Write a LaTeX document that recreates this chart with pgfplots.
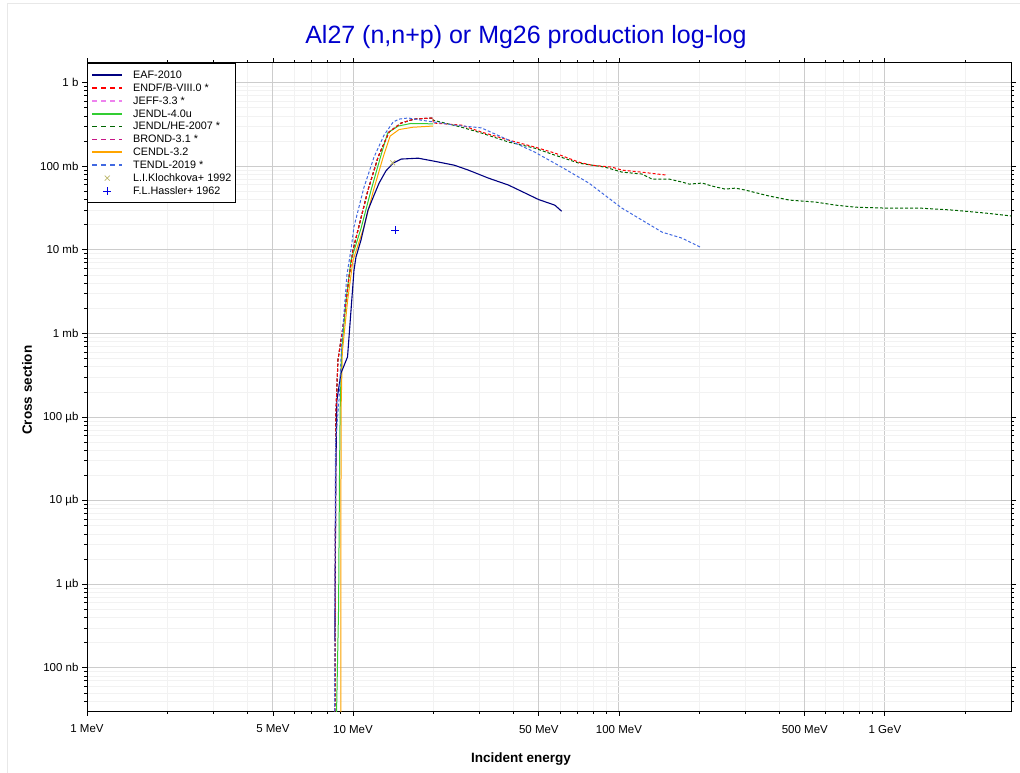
\documentclass[border=0pt]{standalone}
\usepackage{fontspec}
\setmainfont{Liberation Sans}
\usepackage{pgfplots}
\pgfplotsset{compat=1.18}
\definecolor{eafc}{RGB}{0,0,128}
\definecolor{endfc}{RGB}{255,0,0}
\definecolor{jeffc}{RGB}{238,130,238}
\definecolor{jendlc}{RGB}{50,205,50}
\definecolor{jhec}{RGB}{0,100,0}
\definecolor{brondc}{RGB}{199,21,133}
\definecolor{cendlc}{RGB}{255,165,0}
\definecolor{tendlc}{RGB}{65,105,225}
\definecolor{klochc}{RGB}{189,183,107}
\definecolor{hassc}{RGB}{0,0,230}
\definecolor{titlec}{RGB}{0,0,205}
\begin{document}
\begin{tikzpicture}
\path[use as bounding box] (0,0) rectangle (1020pt,773pt);
\draw[black!9, line width=1pt] (7pt,0pt) -- (7pt,769pt) -- (1020pt,769pt);
\begin{axis}[
  at={(87pt,62pt)}, anchor=south west,
  scale only axis, width=924pt, height=648pt,
  xmode=log, ymode=log,
  xmin=1, xmax=2980, ymin=3.05e-5, ymax=1720,
  axis line style={black, line width=1pt},
  xtick={1,10,100,1000},
  xticklabels={1 MeV,10 MeV,100 MeV,1 GeV},
  extra x ticks={5,50,500},
  extra x tick labels={5 MeV,50 MeV,500 MeV},
  minor xtick={2,3,4,6,7,8,9,20,30,40,60,70,80,90,200,300,400,600,700,800,900,2000,3000},
  ytick={1e-4,1e-3,1e-2,1e-1,1,10,100,1000},
  yticklabels={100 nb,1 µb,10 µb,100 µb,1 mb,10 mb,100 mb,1 b},
  minor ytick={4e-5,5e-5,6e-5,7e-5,8e-5,9e-5,2e-4,3e-4,4e-4,5e-4,6e-4,7e-4,8e-4,9e-4,2e-3,3e-3,4e-3,5e-3,6e-3,7e-3,8e-3,9e-3,2e-2,3e-2,4e-2,5e-2,6e-2,7e-2,8e-2,9e-2,0.2,0.3,0.4,0.5,0.6,0.7,0.8,0.9,2,3,4,5,6,7,8,9,20,30,40,50,60,70,80,90,200,300,400,500,600,700,800,900},
  grid=both,
  major grid style={color=black!20, line width=0.9pt},
  minor grid style={color=black!5, line width=0.8pt},
  tick align=outside,
  major tick length=5pt, minor tick length=3pt,
  tick style={black, line width=0.8pt},
  ticklabel style={font=\fontsize{11.5}{13}\selectfont},
  xticklabel style={yshift=-5.5pt},
  title={Al27 (n,n+p) or Mg26 production log-log},
  title style={at={(axis description cs:0.475,1.0305)}, anchor=center, yshift=0pt, font=\fontsize{25}{29}\selectfont, text=titlec},
  xlabel={\bfseries Incident energy},
  xlabel style={at={(axis description cs:0.4697,-0.0745)}, anchor=center, font=\fontsize{13.5}{16}\selectfont},
  ylabel={\bfseries Cross section},
  ylabel style={at={(axis description cs:-0.0649,0.495)}, anchor=center, font=\fontsize{13.5}{16}\selectfont},
  legend cell align=left,
  legend style={at={(0,1)}, anchor=north west, draw=black, line width=0.7pt,
    font=\fontsize{10.8}{12}\selectfont, inner xsep=4pt, inner ysep=6.5pt,
    nodes={inner sep=0pt, text height=8.5pt, text depth=1.7pt},
    row sep=2.7pt, column sep=10pt},
  legend image code/.code={\draw[mark repeat=2,mark phase=2,#1] plot coordinates {(0pt,0pt) (15pt,0pt) (30pt,0pt)};},
  every axis plot/.append style={line width=1pt},
  ddash/.style={dash pattern=on 3pt off 2pt},
]
% JEFF-3.3
\addplot[forget plot, jeffc, ddash] coordinates {(8.55,1e-5) (8.62,0.1) (8.78,0.48) (9.17,1.19) (9.66,4.7) (10.0,9.9) (10.44,17.2) (11.39,52) (12.43,129) (13.67,257) (15.18,329) (17.0,367) (20.0,378)};
% BROND-3.1
\addplot[forget plot, brondc, ddash] coordinates {(8.54,1e-5) (8.61,0.1) (8.78,0.48) (9.17,1.19) (9.66,4.7) (10.0,9.9) (10.44,17.2) (11.39,52) (12.43,129) (13.67,257) (15.18,329) (17.0,367) (20.0,378)};
% JENDL/HE-2007
\addplot[forget plot, jhec, ddash] coordinates {(8.55,1e-5) (8.62,0.1) (8.78,0.48) (9.17,1.19) (9.66,4.7) (10.0,9.9) (10.44,17.2) (11.39,52) (12.43,129) (13.67,257) (15.18,329) (17.0,367) (20.0,378) (20.0,356) (25.56,294) (30.41,250) (38.45,195) (48.2,165) (57.4,136) (70.7,109) (88.6,97.7) (102.6,85.2) (122.1,80.7) (133.2,70.3) (154.4,70.3) (172.9,64.7) (183.8,61.2) (205.7,63) (224.3,57.9) (251.2,53.3) (274,54.8) (298.9,51.9) (368,44) (438,39.4) (549,37.3) (653,34.3) (777,32.4) (1009,31.6) (1356,31.6) (1806,29.9) (2405,27.5) (3041,25.3)};
% JENDL-4.0u
\addplot[forget plot, jendlc] coordinates {(8.62,1e-5) (8.83,5.3e-4) (8.90,0.02) (8.95,0.12) (9.07,0.63) (9.42,2.5) (9.83,7.5) (10.72,18) (11.7,52) (12.75,136) (13.5,250) (14.8,303) (16.5,325) (20.0,322)};
% CENDL-3.2
\addplot[forget plot, cendlc] coordinates {(9.0,1e-5) (9.02,0.12) (9.12,0.6) (9.55,2.5) (10.0,7.5) (10.95,18) (11.95,52) (13.0,130) (13.8,230) (14.9,275) (16.8,293) (20.0,303)};
% EAF-2010
\addplot[forget plot, eafc, line width=1.1pt] coordinates {(8.55,2.1e-4) (8.62,0.02) (8.70,0.158) (9.01,0.334) (9.54,0.524) (10.09,5.7) (10.26,8.17) (10.72,13.1) (11.39,29.9) (12.0,45) (12.54,63) (13.3,88) (14.16,109) (15.18,122) (17.59,125) (20.22,115) (24.05,103) (27.16,90) (32.31,72.2) (38.45,59.6) (49.9,40) (57.4,34.3) (60.9,29.0)};
% ENDF/B-VIII.0
\addplot[forget plot, endfc, ddash] coordinates {(8.55,1e-5) (8.62,0.1) (8.78,0.48) (9.17,1.19) (9.66,4.7) (10.0,9.9) (10.44,17.2) (11.39,52) (12.43,129) (13.67,257) (15.18,329) (17.0,367) (20.0,378) (20.04,329) (25.56,311) (30.4,257) (38.45,206) (48.2,170) (57.4,144) (70.7,112) (79.1,103) (94.1,97.7) (102.6,90) (122,85) (152,78.3)};
% TENDL-2019
\addplot[forget plot, tendlc, ddash] coordinates {(8.52,1e-5) (8.6,0.05) (8.86,0.158) (9.09,0.83) (9.49,5.0) (9.85,10.5) (10.09,19) (11.0,56) (12.0,129) (13.09,236) (14.16,338) (14.92,367) (16.13,378) (18.06,356) (20.2,338) (24.05,311) (30.4,288) (38.45,206) (48.2,148) (60.9,97.7) (77.1,63) (102.6,31.6) (122.1,22.7) (145.3,16.3) (172.9,13.8) (202,10.8)};
% Klochkova
\addplot[forget plot, klochc, only marks, mark=x, mark size=3.5pt, line width=0.8pt] coordinates {(14.1,110)};
% Hassler
\addplot[forget plot, hassc, only marks, mark=+, mark size=4pt, line width=0.8pt] coordinates {(14.44,17.2)};
% legend
\addlegendimage{eafc, line width=1.8pt}\addlegendentry{EAF-2010}
\addlegendimage{endfc, line width=1.8pt, dash pattern=on 5pt off 4pt}\addlegendentry{ENDF/B-VIII.0 *}
\addlegendimage{jeffc, line width=1.8pt, dash pattern=on 5pt off 4pt}\addlegendentry{JEFF-3.3 *}
\addlegendimage{jendlc, line width=1.8pt}\addlegendentry{JENDL-4.0u}
\addlegendimage{jhec, line width=1.8pt, dash pattern=on 5pt off 4pt}\addlegendentry{JENDL/HE-2007 *}
\addlegendimage{brondc, line width=1.8pt, dash pattern=on 5pt off 4pt}\addlegendentry{BROND-3.1 *}
\addlegendimage{cendlc, line width=1.8pt}\addlegendentry{CENDL-3.2}
\addlegendimage{tendlc, line width=1.8pt, dash pattern=on 5pt off 4pt}\addlegendentry{TENDL-2019 *}
\addlegendimage{klochc, only marks, mark=x, mark size=3.5pt, line width=0.8pt}\addlegendentry{L.I.Klochkova+ 1992}
\addlegendimage{hassc, only marks, mark=+, mark size=4pt, line width=0.8pt}\addlegendentry{F.L.Hassler+ 1962}
\end{axis}
\end{tikzpicture}
\end{document}
